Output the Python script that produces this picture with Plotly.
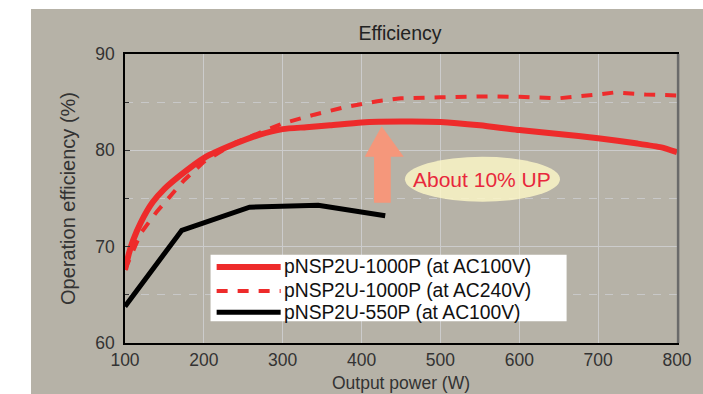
import plotly.graph_objects as go

# Efficiency curves (output power in W, efficiency in %)
power_1000_ac100 = [100, 105, 110, 120, 135, 150, 170, 200, 240, 270, 300, 330, 360, 400,
                    450, 500, 550, 600, 650, 700, 750, 780, 800]
eff_1000_ac100 = [67.6, 69.3, 70.6, 72.5, 74.6, 76.0, 77.4, 79.2, 80.7, 81.6, 82.2, 82.4, 82.6,
                  82.9, 83.0, 82.95, 82.6, 82.1, 81.7, 81.25, 80.7, 80.3, 79.8]

power_1000_ac240 = [100, 110, 120, 140, 160, 175, 200, 240, 270, 300, 340, 380, 420, 450,
                    500, 560, 600, 650, 700, 720, 760, 800]
eff_1000_ac240 = [67.6, 69.6, 71.4, 73.6, 75.5, 76.9, 78.8, 80.8, 81.8, 82.8, 83.7, 84.5, 85.1,
                  85.4, 85.5, 85.6, 85.55, 85.4, 85.8, 86.0, 85.8, 85.7]

power_550_ac100 = [100, 172, 258, 345, 430]
eff_550_ac100 = [63.8, 71.7, 74.1, 74.3, 73.2]

series_names = ["pNSP2U-1000P (at AC100V)", "pNSP2U-1000P (at AC240V)", "pNSP2U-550P (at AC100V)"]
x_ticks = [100, 200, 300, 400, 500, 600, 700, 800]
y_ticks = [60, 70, 80, 90]

RED = "#ee2b2b"
BLACK = "#000000"
FONT = "Liberation Sans, Arial, sans-serif"

fig = go.Figure()
fig.add_trace(go.Scatter(x=power_1000_ac240, y=eff_1000_ac240, mode="lines",
                         line=dict(color=RED, width=4, dash="11px,10px"),
                         name=series_names[1], showlegend=False))
fig.add_trace(go.Scatter(x=power_1000_ac100, y=eff_1000_ac100, mode="lines",
                         line=dict(color=RED, width=6, shape="spline", smoothing=0.6),
                         name=series_names[0], showlegend=False))
fig.add_trace(go.Scatter(x=power_550_ac100, y=eff_550_ac100, mode="lines",
                         line=dict(color=BLACK, width=5),
                         name=series_names[2], showlegend=False))

shapes = [
    # grey panel behind the chart
    dict(type="rect", xref="paper", yref="paper", x0=-0.1703, x1=1.05, y0=-0.2, y1=1.1557,
         fillcolor="#b6b2a7", line=dict(width=0), layer="below"),
    # highlight ellipse behind the callout text
    dict(type="circle", xref="x", yref="y", x0=455, x1=651.6, y0=74.67, y1=79.34,
         fillcolor="rgba(255,249,200,0.8)", line=dict(width=0), layer="above"),
    # upward arrow
    dict(type="path", xref="x", yref="y", layer="above",
         path="M 415.8 74.56 L 437.0 74.56 L 437.0 79.34 L 453.5 79.34 L 425.5 82.5 "
              "L 404.0 79.34 L 415.8 79.34 Z",
         fillcolor="#f5977b", line=dict(width=0)),
    # legend background
    dict(type="rect", xref="paper", yref="paper", x0=0.155, x1=0.8, y0=0.075, y1=0.305,
         fillcolor="white", line=dict(width=0), layer="above"),
    # right frame edge
    dict(type="line", xref="paper", yref="paper", x0=1.002, x1=1.002, y0=0, y1=1,
         line=dict(color="#6a6a6a", width=2.5), layer="above"),
]

# hand-drawn legend with long line samples
legend_y = [0.263, 0.180, 0.106]
legend_styles = [dict(color=RED, width=6), dict(color=RED, width=4, dash="11px,10px"),
                 dict(color=BLACK, width=5)]
annotations = []
for name, ly, style in zip(series_names, legend_y, legend_styles):
    shapes.append(dict(type="line", xref="paper", yref="paper", x0=0.166, x1=0.282,
                       y0=ly, y1=ly, line=style, layer="above"))
    annotations.append(dict(xref="paper", yref="paper", x=0.285, y=ly, xanchor="left",
                            yanchor="middle", text=name, showarrow=False,
                            font=dict(family=FONT, size=19.3, color="#111")))

annotations.append(dict(xref="x", yref="y", x=553, y=77.0, text="About 10% UP",
                        showarrow=False, font=dict(family=FONT, size=21, color="#e8283c")))

fig.update_layout(
    width=703, height=394,
    margin=dict(l=125, r=26, t=54, b=51),
    paper_bgcolor="white", plot_bgcolor="white",
    title=dict(text="Efficiency", x=400 / 703, xanchor="center", y=1 - 33 / 394,
               yanchor="middle", font=dict(family=FONT, size=19.5, color="#222")),
    shapes=shapes, annotations=annotations, showlegend=False,
)
fig.update_xaxes(
    range=[100, 800], tickvals=x_ticks, showline=True, linecolor="black", linewidth=1.5,
    mirror=True, showgrid=True, gridcolor="#cccccc", gridwidth=1, zeroline=False,
    ticks="", tickfont=dict(family=FONT, size=17.5, color="#333"), automargin=False,
    title=dict(text="Output power (W)", font=dict(family=FONT, size=17.5, color="#333"),
               standoff=8),
)
fig.update_yaxes(
    range=[60, 90], tickvals=y_ticks, showline=True, linecolor="black", linewidth=1.5,
    mirror=True, showgrid=True, gridcolor="#cccccc", gridwidth=1, zeroline=False,
    ticks="inside", ticklen=5, tickcolor="#333", automargin=False, ticklabelstandoff=5,
    minor=dict(dtick=5, showgrid=True, gridcolor="#c8c8c8", griddash="8px,8px",
               ticks="inside", ticklen=4, tickcolor="#333"),
    tickfont=dict(family=FONT, size=17.5, color="#333"),
    title=dict(text="Operation efficiency (%)", font=dict(family=FONT, size=20, color="#333"),
               standoff=14),
)

fig.write_html("out.html")
